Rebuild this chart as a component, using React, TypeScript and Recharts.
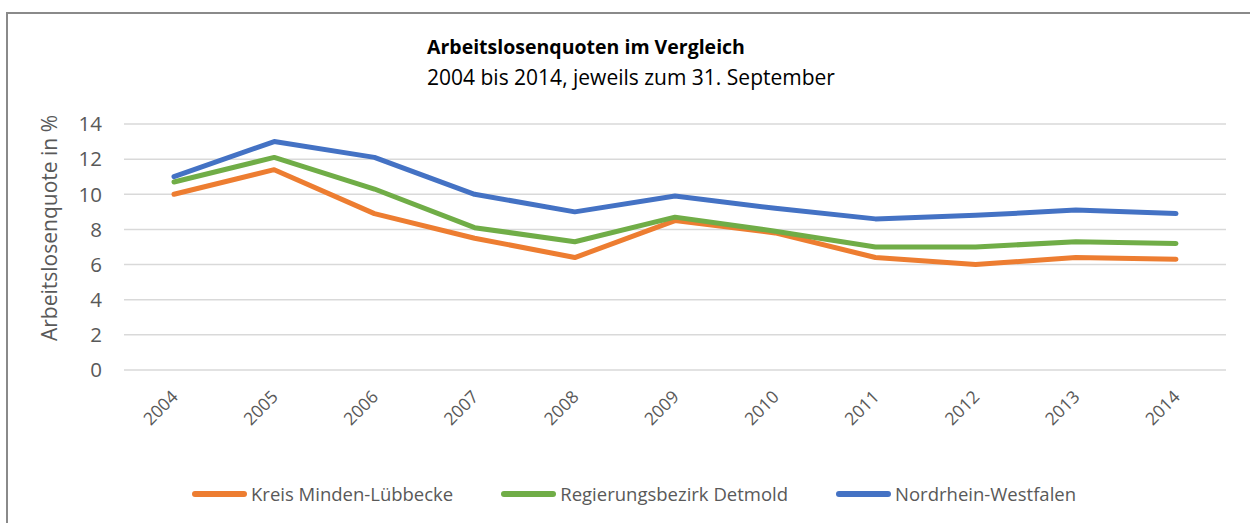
import { LineChart, Line, XAxis, YAxis, CartesianGrid } from "recharts";

const FONT = "'Open Sans', 'Liberation Sans', sans-serif";
const TEXT = "#595959";

const years = ["2004", "2005", "2006", "2007", "2008", "2009", "2010", "2011", "2012", "2013", "2014"];
const minden = [10.0, 11.4, 8.9, 7.5, 6.4, 8.5, 7.8, 6.4, 6.0, 6.4, 6.3];
const detmold = [10.7, 12.1, 10.3, 8.1, 7.3, 8.7, 7.9, 7.0, 7.0, 7.3, 7.2];
const nrw = [11.0, 13.0, 12.1, 10.0, 9.0, 9.9, 9.2, 8.6, 8.8, 9.1, 8.9];
const yTicks = [0, 2, 4, 6, 8, 10, 12, 14];

const series = [
  { key: "minden", name: "Kreis Minden-Lübbecke", color: "#ED7D31" },
  { key: "detmold", name: "Regierungsbezirk Detmold", color: "#70AD47" },
  { key: "nrw", name: "Nordrhein-Westfalen", color: "#4472C4" },
];

const data = years.map((year, i) => ({
  year,
  minden: minden[i],
  detmold: detmold[i],
  nrw: nrw[i],
}));

// eslint-disable-next-line @typescript-eslint/no-explicit-any
function YearTick({ x, y, payload }: any) {
  const tx = x + 5;
  const ty = y + 20;
  return (
    <text
      x={tx}
      y={ty}
      transform={`rotate(-45, ${tx}, ${ty})`}
      textAnchor="end"
      fill={TEXT}
      fontSize={17.5}
      fontFamily={FONT}
    >
      {payload.value}
    </text>
  );
}

function AxisTitle() {
  return (
    <text
      x={57}
      y={228}
      transform="rotate(-90, 57, 228)"
      textAnchor="middle"
      fill={TEXT}
      fontSize={21}
      fontFamily={FONT}
    >
      Arbeitslosenquote in %
    </text>
  );
}

export default function App() {
  return (
    <div
      style={{
        position: "fixed",
        left: 0,
        top: 0,
        width: 1250,
        height: 523,
        overflow: "hidden",
        background: "#fff",
        fontFamily: FONT,
      }}
    >
      <div
        style={{
          position: "absolute",
          left: 6,
          top: 12,
          width: 1400,
          height: 700,
          border: "2px solid #8a8a8a",
        }}
      />

      <div style={{ position: "absolute", left: 427, top: 32, lineHeight: "30px", color: "#000" }}>
        <div style={{ fontWeight: 700, fontSize: 19.5 }}>Arbeitslosenquoten im Vergleich</div>
        <div style={{ fontSize: 21 }}>2004 bis 2014, jeweils zum 31. September</div>
      </div>

      <div style={{ position: "absolute", left: 0, top: 0 }}>
        <LineChart
          width={1250}
          height={523}
          data={data}
          margin={{ top: 124, right: 24, bottom: 93, left: 0 }}
        >
          <CartesianGrid vertical={false} stroke="#d9d9d9" strokeWidth={1.5} />
          <XAxis
            dataKey="year"
            height={60}
            interval={0}
            padding={{ left: 50, right: 50 }}
            axisLine={false}
            tickLine={false}
            tick={<YearTick />}
          />
          <YAxis
            width={124}
            domain={[0, 14]}
            ticks={yTicks}
            axisLine={false}
            tickLine={false}
            tickSize={0}
            tickMargin={22}
            tick={{ fill: TEXT, fontSize: 20.5, fontFamily: FONT }}
            label={{ content: <AxisTitle /> }}
          />
          {series.map((s) => (
            <Line
              key={s.key}
              type="linear"
              dataKey={s.key}
              name={s.name}
              stroke={s.color}
              strokeWidth={5}
              strokeLinecap="round"
              strokeLinejoin="round"
              dot={false}
              activeDot={false}
              isAnimationActive={false}
            />
          ))}
        </LineChart>
      </div>

      <div
        style={{
          position: "absolute",
          left: 192,
          top: 481,
          display: "flex",
          alignItems: "center",
          gap: 48,
          fontSize: 18.5,
          color: TEXT,
        }}
      >
        {series.map((s) => (
          <div key={s.key} style={{ display: "flex", alignItems: "center", gap: 4 }}>
            <span
              style={{
                display: "inline-block",
                width: 55,
                height: 6,
                borderRadius: 3,
                background: s.color,
              }}
            />
            <span>{s.name}</span>
          </div>
        ))}
      </div>
    </div>
  );
}
